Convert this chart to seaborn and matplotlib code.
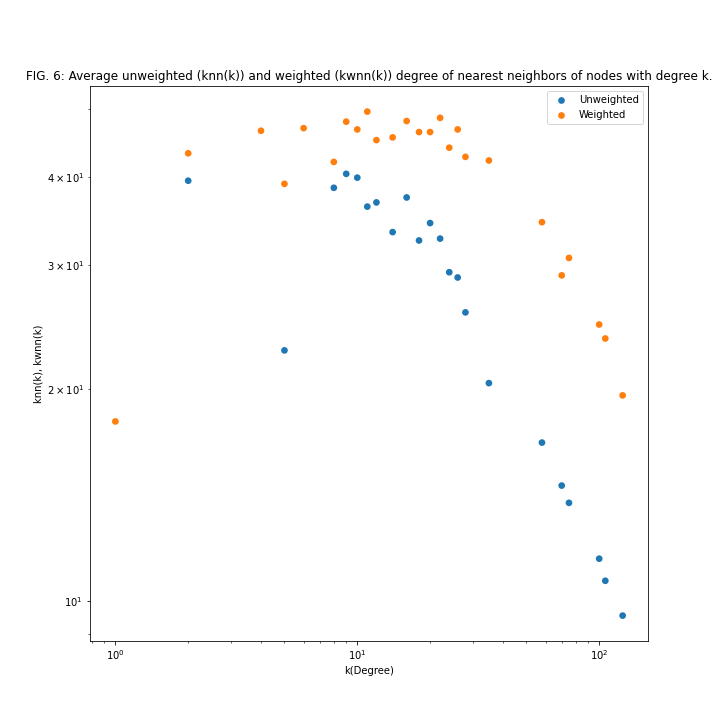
import matplotlib
matplotlib.use("Agg")
import matplotlib.pyplot as plt
import seaborn as sns
import pandas as pd

k = [2, 5, 8, 9, 10, 11, 12, 14, 16, 18, 20, 22, 24, 26, 28, 35, 58, 70, 75, 100, 106, 125]
knn = [39.5, 22.7, 38.6, 40.4, 39.9, 36.3, 36.8, 33.4, 37.4, 32.5, 34.4, 32.7, 29.3, 28.8, 25.7, 20.4, 16.8, 14.6, 13.8, 11.5, 10.7, 9.55]
k_w = [1, 2, 4, 5, 6, 8, 9, 10, 11, 12, 14, 16, 18, 20, 22, 24, 26, 28, 35, 58, 70, 75, 100, 106, 125]
kwnn = [18.0, 43.2, 46.5, 39.1, 46.9, 42.0, 47.9, 46.7, 49.5, 45.1, 45.5, 48.0, 46.3, 46.3, 48.5, 44.0, 46.7, 42.7, 42.2, 34.5, 29.0, 30.7, 24.7, 23.6, 19.6]

df = pd.concat([
    pd.DataFrame({"k": k, "v": knn, "s": "Unweighted"}),
    pd.DataFrame({"k": k_w, "v": kwnn, "s": "Weighted"}),
])

fig, ax = plt.subplots(figsize=(10, 10), dpi=72)
sns.scatterplot(data=df, x="k", y="v", hue="s", palette=["#1f77b4", "#ff7f0e"],
                s=45, edgecolor="none", ax=ax)
ax.set_xscale("log")
ax.set_yscale("log")
ax.set_xlabel("k(Degree)")
ax.set_ylabel("knn(k), kwnn(k)")
ax.set_title("FIG. 6: Average unweighted (knn(k)) and weighted (kwnn(k)) degree of nearest neighbors of nodes with degree k.")
ax.legend(title=None, loc="upper right")
fig.savefig("out.png", dpi=72)
